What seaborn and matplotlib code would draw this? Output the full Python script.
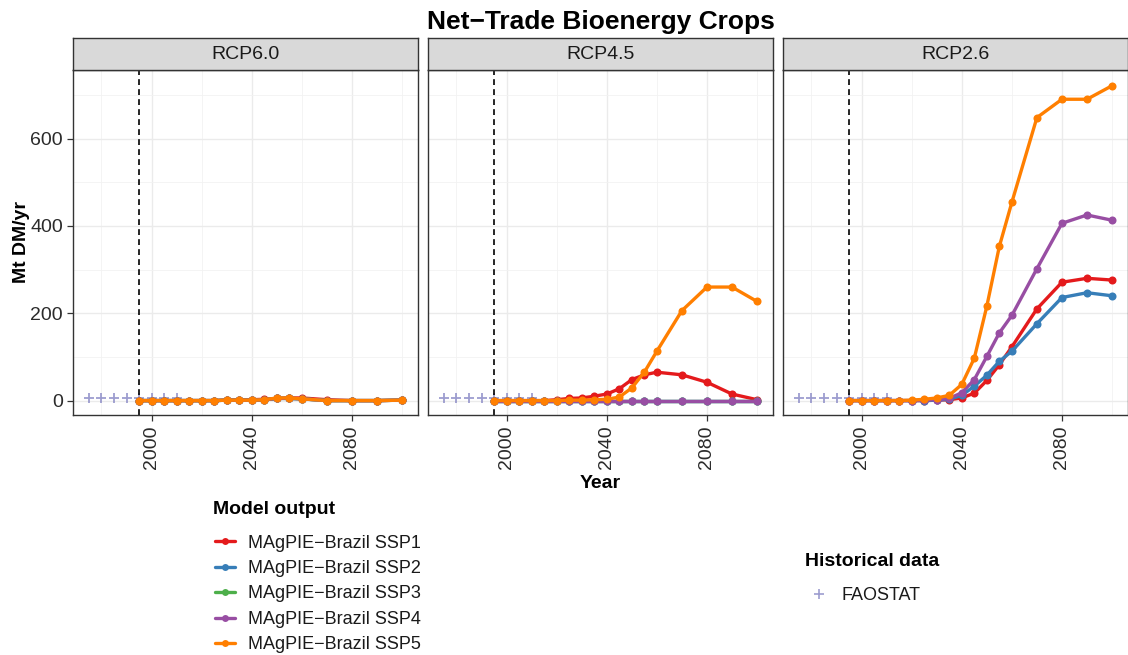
import numpy as np
import pandas as pd
import matplotlib
matplotlib.use("Agg")
import matplotlib.pyplot as plt
from matplotlib.lines import Line2D
from matplotlib.ticker import MultipleLocator
import seaborn as sns

# ---- data -------------------------------------------------------------
scenarios = ["RCP6.0", "RCP4.5", "RCP2.6"]
model_labels = ["MAgPIE\u2212Brazil SSP1", "MAgPIE\u2212Brazil SSP2",
                "MAgPIE\u2212Brazil SSP3", "MAgPIE\u2212Brazil SSP4",
                "MAgPIE\u2212Brazil SSP5"]
model_colors = ["#E41A1C", "#377EB8", "#4DAF4A", "#984EA3", "#FF7F00"]

model_years = [1995, 2000, 2005, 2010, 2015, 2020, 2025, 2030, 2035, 2040,
               2045, 2050, 2055, 2060, 2070, 2080, 2090, 2100]

# Net trade of bioenergy crops, Mt DM/yr
rcp60_ssp1 = [0, 0, 0, 0, 0, 0, 0, 1, 1, 2, 3, 5, 6, 6, 2, 0, 0, 1]
rcp60_ssp2 = [0, 0, 0, 0, 0, 0, 0, 1, 1, 1, 2, 5, 5, 4, 0, 0, 0, 1]
rcp60_ssp3 = [0, 0, 0, 0, 0, 0, 0, 1, 1, 1, 2, 5, 5, 4, 0, 0, 0, 1]
rcp60_ssp4 = [0, 0, 0, 0, 0, 0, 0, 1, 1, 1, 2, 5, 5, 4, 0, 0, 0, 1]
rcp60_ssp5 = [0, 0, 0, 0, 0, 0, 0, 1, 1, 1, 2, 6, 6, 4, 0, 0, 0, 1]

rcp45_ssp1 = [0, 0, 0, 0, 0, 2, 5, 6, 10, 15, 27, 48, 59, 65, 59, 42, 15, 2]
rcp45_ssp2 = [0, 0, 0, 0, 0, 0, 0, 0, 0, 0, 0, 0, 0, 0, 0, 0, 0, 0]
rcp45_ssp3 = [0, 0, 0, 0, 0, 0, 0, 0, 0, 0, 0, 0, 0, 0, 0, 0, 0, 0]
rcp45_ssp4 = [0, 0, 0, 0, 0, 0, 0, 0, 0, 0, 0, 0, 0, 0, 0, 0, 0, 0]
rcp45_ssp5 = [0, 0, 0, 0, 0, 0, 1, 1, 2, 3, 8, 29, 65, 113, 206, 260, 260, 227]

rcp26_ssp1 = [0, 0, 0, 0, 0, 0, 0, 1, 2, 6, 17, 46, 82, 123, 210, 271, 280, 276]
rcp26_ssp2 = [0, 0, 0, 0, 0, 0, 0, 1, 3, 12, 33, 58, 90, 113, 176, 236, 247, 240]
rcp26_ssp4 = [0, 0, 0, 0, 0, 0, 1, 2, 5, 18, 48, 101, 155, 195, 302, 406, 425, 413]
rcp26_ssp5 = [0, 0, 0, 0, 0, 1, 3, 6, 12, 37, 97, 216, 353, 454, 648, 690, 690, 721]

fao_years = [1975, 1980, 1985, 1990, 1995, 2000, 2005, 2010]
fao_values = [5, 5, 5, 5, 5, 5, 5, 5]

series = {
    "RCP6.0": [rcp60_ssp1, rcp60_ssp2, rcp60_ssp3, rcp60_ssp4, rcp60_ssp5],
    "RCP4.5": [rcp45_ssp1, rcp45_ssp2, rcp45_ssp3, rcp45_ssp4, rcp45_ssp5],
    "RCP2.6": [rcp26_ssp1, rcp26_ssp2, None, rcp26_ssp4, rcp26_ssp5],
}

rows = []
for rcp, vals_list in series.items():
    for label, vals in zip(model_labels, vals_list):
        if vals is None:
            continue
        for yr, v in zip(model_years, vals):
            rows.append({"scenario": rcp, "model": label, "year": yr, "value": v})
model_df = pd.DataFrame(rows)
fao_df = pd.DataFrame({"year": fao_years, "value": fao_values})

# ---- style ------------------------------------------------------------
sns.set_theme(style="white")
plt.rcParams["font.family"] = ["Liberation Sans", "DejaVu Sans"]

W, H = 1128, 655
fig = plt.figure(figsize=(W / 100, H / 100), dpi=100)
fig.patch.set_facecolor("white")

panel_lefts = [73.3, 428.3, 783.3]
panel_w = 344.4
plot_top, plot_bottom = 70, 415
strip_h = 32
border = "#333333"
txt_col = "#2B2B2B"
fao_col = "#8585C4"

palette = dict(zip(model_labels, model_colors))

for i, (rcp, left) in enumerate(zip(scenarios, panel_lefts)):
    ax = fig.add_axes([left / W, 1 - plot_bottom / H, panel_w / W,
                       (plot_bottom - plot_top) / H])
    ax.set_facecolor("white")
    ax.set_axisbelow(True)

    sns.scatterplot(data=fao_df, x="year", y="value", marker="+", s=60,
                    color=fao_col, linewidth=1.3, alpha=0.8, ax=ax,
                    legend=False, zorder=2)
    ax.axvline(1995, color="black", linestyle=(0, (3.5, 2.5)), lw=1.2, zorder=2.5)
    sns.lineplot(data=model_df[model_df["scenario"] == rcp], x="year", y="value",
                 hue="model", hue_order=model_labels, palette=palette,
                 marker="o", markersize=5.8, markeredgewidth=0, linewidth=2.4,
                 ax=ax, legend=False, zorder=3)

    ax.set_xlim(1968.75, 2106.25)
    ax.set_ylim(-33, 757)
    ax.xaxis.set_major_locator(MultipleLocator(40))
    ax.xaxis.set_minor_locator(MultipleLocator(20))
    ax.yaxis.set_major_locator(MultipleLocator(200))
    ax.yaxis.set_minor_locator(MultipleLocator(100))
    ax.grid(which="major", color="#EBEBEB", lw=1.0)
    ax.grid(which="minor", color="#F2F2F2", lw=0.6)
    for sp in ax.spines.values():
        sp.set_color(border)
        sp.set_linewidth(1.0)
    ax.tick_params(which="major", direction="out", length=4, width=0.9,
                   color=border, labelsize=14, labelcolor=txt_col,
                   bottom=True, left=(i == 0))
    ax.tick_params(which="minor", length=0)
    ax.tick_params(axis="x", labelrotation=90)
    ax.set_xlabel("")
    ax.set_ylabel("")
    if i > 0:
        ax.tick_params(axis="y", labelleft=False, left=False)

    strip = fig.add_axes([left / W, 1 - plot_top / H, panel_w / W, strip_h / H])
    strip.set_facecolor("#D9D9D9")
    strip.set_xticks([])
    strip.set_yticks([])
    for sp in strip.spines.values():
        sp.set_color(border)
        sp.set_linewidth(1.0)
    strip.text(0.5, 0.47, rcp, ha="center", va="center", fontsize=14,
               color="#1A1A1A", transform=strip.transAxes)

panel_cx = (panel_lefts[0] + panel_lefts[-1] + panel_w) / 2 / W
fig.text(panel_cx, 1 - 22 / H, "Net\u2212Trade Bioenergy Crops", ha="center",
         va="center", fontsize=19, fontweight="bold", color="black")
fig.text(panel_cx, 1 - 483 / H, "Year", ha="center", va="center",
         fontsize=14, fontweight="bold", color="black")
fig.text(22 / W, 1 - 242 / H, "Mt DM/yr", ha="center", va="center",
         rotation=90, fontsize=14, fontweight="bold", color="black")

# ---- legends ----------------------------------------------------------
fig.text(213 / W, 1 - 509 / H, "Model output", ha="left", va="center",
         fontsize=14, fontweight="bold", color="black")
model_handles = [Line2D([], [], color=c, lw=2.4, marker="o", markersize=5,
                        markeredgewidth=0) for c in model_colors]
leg1 = fig.legend(model_handles, model_labels,
                  loc="upper left", bbox_to_anchor=(215 / W, 1 - 534.5 / H),
                  frameon=False, fontsize=13, handlelength=1.1,
                  handletextpad=0.72, labelspacing=0.47, borderpad=0,
                  borderaxespad=0)

fig.text(805 / W, 1 - 561 / H, "Historical data", ha="left", va="center",
         fontsize=14, fontweight="bold", color="black")
fao_handle = Line2D([], [], color=fao_col, lw=0, marker="+", markersize=7,
                    markeredgewidth=1.2, alpha=0.8)
leg2 = fig.legend([fao_handle], ["FAOSTAT"],
                  loc="upper left", bbox_to_anchor=(809 / W, 1 - 587 / H),
                  frameon=False, fontsize=13, handlelength=1.1,
                  handletextpad=0.72, labelspacing=0.47, borderpad=0,
                  borderaxespad=0)
for leg in (leg1, leg2):
    for t in leg.get_texts():
        t.set_color("#1A1A1A")

fig.savefig("out.png", dpi=100, facecolor="white")
